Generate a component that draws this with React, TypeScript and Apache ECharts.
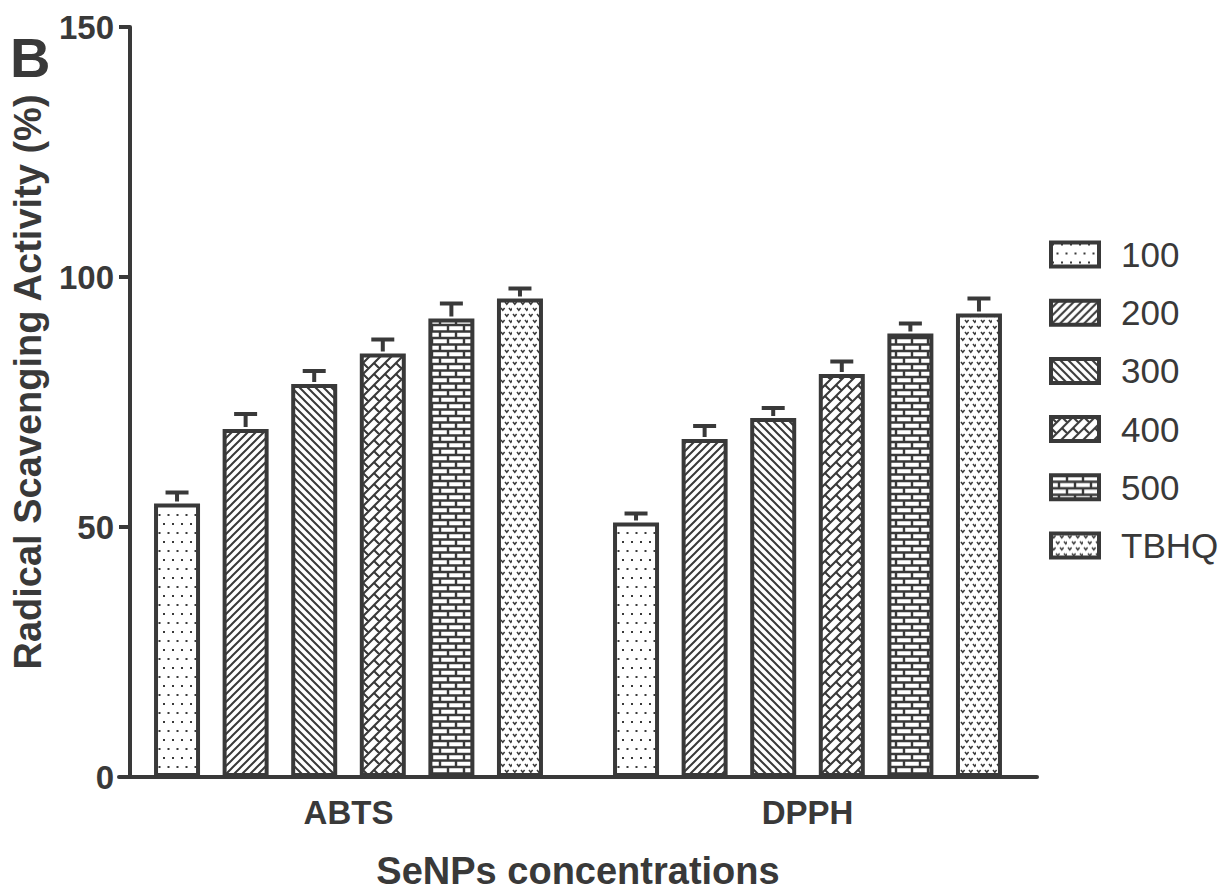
import React, { useEffect, useRef } from "react";
import * as echarts from "echarts";

const categories = ["ABTS", "DPPH"];
const seriesNames = ["100", "200", "300", "400", "500", "TBHQ"];
// each array: [ABTS, DPPH]
const values100 = [54.7, 50.9];
const values200 = [69.6, 67.6];
const values300 = [78.6, 71.8];
const values400 = [84.7, 80.6];
const values500 = [91.7, 88.7];
const valuesTBHQ = [95.7, 92.7];
const errors100 = [2.2, 1.8];
const errors200 = [3.0, 2.6];
const errors300 = [2.6, 2.0];
const errors400 = [2.8, 2.5];
const errors500 = [3.0, 2.0];
const errorsTBHQ = [2.0, 3.0];
const yTicks = { min: 0, max: 150, interval: 50 };

const allValues = [values100, values200, values300, values400, values500, valuesTBHQ];
const allErrors = [errors100, errors200, errors300, errors400, errors500, errorsTBHQ];

const INK = "#393939";
const FONT = "Arial, 'Liberation Sans', Helvetica, sans-serif";
const BAR_W = 46;
const BAR_GAP = 0.491;
const CAP_W = 23;

function tile(w: number, h: number, draw: (c: CanvasRenderingContext2D) => void) {
  const c = document.createElement("canvas");
  c.width = w;
  c.height = h;
  const ctx = c.getContext("2d")!;
  ctx.fillStyle = "#fff";
  ctx.fillRect(0, 0, w, h);
  ctx.fillStyle = INK;
  ctx.strokeStyle = INK;
  draw(ctx);
  return { image: c, repeat: "repeat", imageWidth: w, imageHeight: h } as any;
}

function makePatterns() {
  const dots = tile(9, 18, (c) => {
    c.fillRect(1, 1, 2, 2);
    c.fillRect(5.5, 10, 2, 2);
  });
  const fwd = tile(8, 8, (c) => {
    c.lineWidth = 2;
    c.beginPath();
    c.moveTo(-2, 10); c.lineTo(10, -2);
    c.moveTo(-2, 2); c.lineTo(2, -2);
    c.moveTo(6, 10); c.lineTo(10, 6);
    c.stroke();
  });
  const back = tile(8, 8, (c) => {
    c.lineWidth = 2;
    c.beginPath();
    c.moveTo(-2, -2); c.lineTo(10, 10);
    c.moveTo(-2, 6); c.lineTo(2, 10);
    c.moveTo(6, -2); c.lineTo(10, 2);
    c.stroke();
  });
  const s = 11;
  const h = s / Math.SQRT2;
  const diagBrick = tile(s, s, (c) => {
    c.lineWidth = 2.1;
    c.save();
    c.rotate(-Math.PI / 4);
    c.beginPath();
    for (let k = -8; k <= 8; k++) {
      c.moveTo(-8 * s, k * h);
      c.lineTo(8 * s, k * h);
      const odd = ((k % 2) + 2) % 2;
      for (let m = -8; m <= 8; m++) {
        const x = (2 * m + odd) * h;
        c.moveTo(x, k * h);
        c.lineTo(x, (k + 1) * h);
      }
    }
    c.stroke();
    c.restore();
  });
  const brick = tile(32, 13, (c) => {
    c.lineWidth = 2.4;
    c.beginPath();
    c.moveTo(0, 0); c.lineTo(32, 0);
    c.moveTo(0, 6.5); c.lineTo(32, 6.5);
    c.moveTo(0, 13); c.lineTo(32, 13);
    c.moveTo(0, 0); c.lineTo(0, 6.5);
    c.moveTo(16, 0); c.lineTo(16, 6.5);
    c.moveTo(32, 0); c.lineTo(32, 6.5);
    c.moveTo(8, 6.5); c.lineTo(8, 13);
    c.moveTo(24, 6.5); c.lineTo(24, 13);
    c.stroke();
  });
  const vees = tile(16, 12, (c) => {
    c.lineWidth = 1.5;
    c.beginPath();
    const v = (x: number, y: number) => {
      c.moveTo(x, y); c.lineTo(x + 1.8, y + 2.2); c.lineTo(x + 3.6, y);
    };
    v(1, 2); v(9, 2); v(5, 8); v(13, 8);
    c.stroke();
  });
  return [dots, fwd, back, diagBrick, brick, vees];
}

export default function App() {
  const ref = useRef<HTMLDivElement>(null);
  useEffect(() => {
    if (!ref.current) return;
    const chart = echarts.init(ref.current, undefined, { renderer: "svg" });
    const patterns = makePatterns();
    const N = seriesNames.length;

    const barSeries = seriesNames.map((name, i) => ({
      name,
      type: "bar",
      data: allValues[i],
      barWidth: BAR_W,
      barGap: (BAR_GAP * 100).toFixed(1) + "%",
      itemStyle: { color: patterns[i], borderColor: INK, borderWidth: 4 },
      emphasis: { disabled: true },
      z: 2,
    }));

    const errData: number[][] = [];
    seriesNames.forEach((_, s) => {
      categories.forEach((_, c) => {
        errData.push([c, s, allValues[s][c], allErrors[s][c]]);
      });
    });

    const errSeries = {
      name: "err",
      type: "custom",
      data: errData,
      encode: { x: 0, y: 2 },
      z: 3,
      silent: true,
      renderItem: (params: any, api: any) => {
        const cat = api.value(0);
        const s = api.value(1);
        const v = api.value(2);
        const e = api.value(3);
        const base = api.coord([cat, v]);
        const top = api.coord([cat, v + e]);
        const step = BAR_W * (1 + BAR_GAP);
        const total = N * BAR_W + (N - 1) * (step - BAR_W);
        const x = base[0] - total / 2 + BAR_W / 2 + s * step;
        return {
          type: "group",
          children: [
            { type: "line", shape: { x1: x, y1: base[1] - 2, x2: x, y2: top[1] }, style: { stroke: INK, lineWidth: 4 } },
            { type: "line", shape: { x1: x - CAP_W / 2, y1: top[1], x2: x + CAP_W / 2, y2: top[1] }, style: { stroke: INK, lineWidth: 4 } },
          ],
        };
      },
    };

    chart.setOption({
      animation: false,
      backgroundColor: "#fff",
      grid: { left: 119, right: 184, top: 27, bottom: 114, containLabel: false },
      legend: {
        data: seriesNames,
        orient: "vertical",
        left: 1044,
        top: 232,
        itemWidth: 48,
        itemHeight: 24,
        itemGap: 23.2,
        icon: "rect",
        selectedMode: false,
        itemStyle: { borderWidth: 4, borderColor: INK },
        textStyle: { fontSize: 35, color: INK, fontFamily: FONT, padding: [0, 0, 0, 17] },
      },
      xAxis: {
        type: "category",
        data: categories,
        name: "SeNPs concentrations",
        nameLocation: "middle",
        nameGap: 75,
        nameTextStyle: { fontSize: 38, fontWeight: "bold", color: INK, fontFamily: FONT },
        axisLine: { lineStyle: { color: INK, width: 4 } },
        axisTick: { alignWithLabel: true, length: 11, lineStyle: { color: INK, width: 4 } },
        axisLabel: { fontSize: 33, fontWeight: "bold", color: INK, fontFamily: FONT, margin: 19 },
      },
      yAxis: {
        type: "value",
        min: yTicks.min,
        max: yTicks.max,
        interval: yTicks.interval,
        offset: -11,
        name: "Radical Scavenging Activity (%)",
        nameLocation: "middle",
        nameGap: 83,
        nameTextStyle: { fontSize: 38, fontWeight: "bold", color: INK, fontFamily: FONT, padding: [0, 0, 0, 40] },
        splitLine: { show: false },
        axisLine: { show: true, lineStyle: { color: INK, width: 4 } },
        axisTick: { show: true, length: 11, lineStyle: { color: INK, width: 4 } },
        axisLabel: { fontSize: 33, fontWeight: "bold", color: INK, fontFamily: FONT, margin: 16 },
      },
      graphic: [
        {
          type: "text",
          left: 10,
          top: 29,
          style: { text: "B", font: `bold 56px ${FONT}`, fill: INK },
        },
      ],
      series: [...barSeries, errSeries],
    } as any);
    return () => chart.dispose();
  }, []);
  return <div ref={ref} style={{ position: "fixed", left: 0, top: 0, width: 1221, height: 895, background: "#fff" }} />;
}
